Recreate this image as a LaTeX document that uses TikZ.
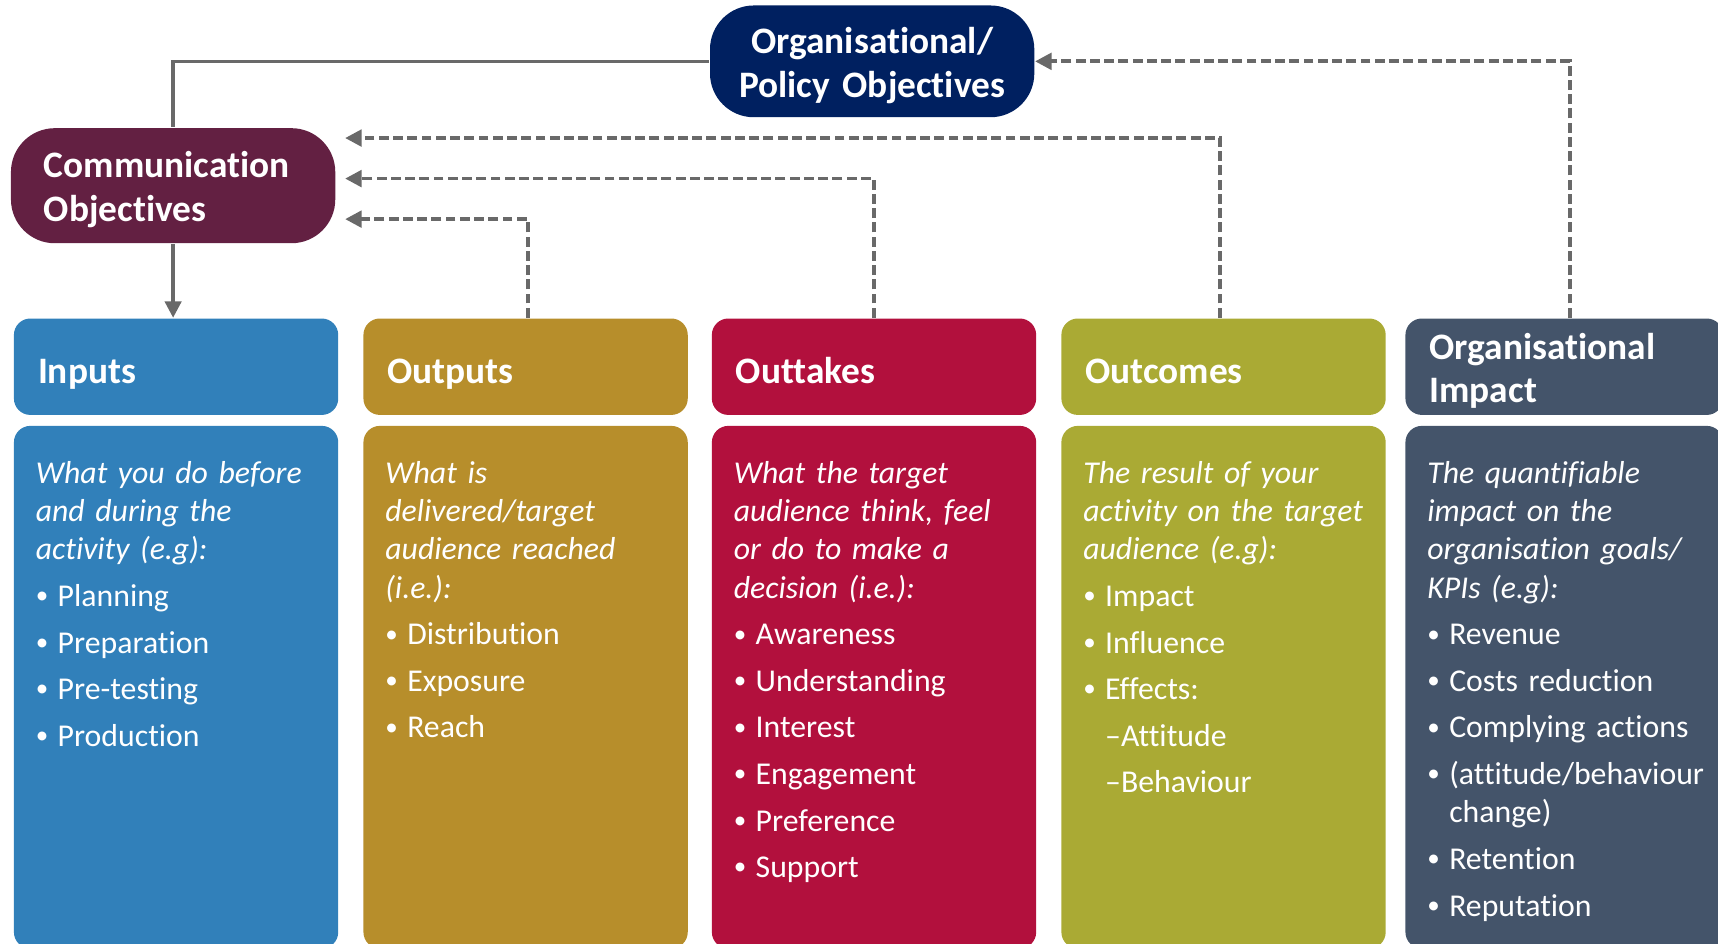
\documentclass[tikz,border=0pt]{standalone}
\usepackage{fontspec}
\usepackage{xcolor}
\usepackage{tikz}
\usetikzlibrary{arrows.meta}
\setmainfont{Carlito}[Ligatures=NoCommon]

\definecolor{navy}{RGB}{0,32,96}
\definecolor{plum}{RGB}{99,32,66}
\definecolor{inblue}{RGB}{49,128,186}
\definecolor{outgold}{RGB}{183,142,43}
\definecolor{takered}{RGB}{178,16,61}
\definecolor{comeolive}{RGB}{170,170,52}
\definecolor{slate}{RGB}{68,84,106}
\definecolor{linegray}{RGB}{105,105,105}

\newcommand{\bul}{\makebox[0.2cm][l]{\raisebox{0.7pt}{\fontsize{6.5}{6.5}\selectfont\textbullet}}}
\newcommand{\gap}{\\[0.075cm]}

\tikzset{
  headfont/.style={font=\fontsize{9.7}{11.4}\selectfont\bfseries},
  objbox/.style={rounded corners=0.4cm, minimum width=2.96cm, text=white, headfont,
    text height=0.25cm, text depth=0.395cm},
  headbox/.style={rounded corners=0.15cm, anchor=north west, minimum width=2.96cm,
    minimum height=0.88cm, text width=2.52cm, inner xsep=0.22cm, inner ysep=0,
    align=left, text=white, headfont, text height=0.32cm, text depth=0.02cm},
  bodybox/.style={rounded corners=0.15cm, anchor=north west, minimum width=2.96cm,
    minimum height=4.77cm, inner sep=0},
  bodytext/.style={anchor=base west, text width=2.7cm, inner sep=0, align=left,
    text=white, font=\fontsize{8.25}{9.96}\selectfont},
  solidline/.style={draw=linegray, line width=0.03cm},
  dashline/.style={draw=linegray, line width=0.034cm, dash pattern=on 0.09cm off 0.04cm},
  tip/.style={-{Triangle[length=0.15cm,width=0.15cm]}}
}

\begin{document}
\begin{tikzpicture}
  \useasboundingbox (0,0) rectangle (15.68,-8.61);
  \clip (0,0) rectangle (15.68,-8.61);

  % objectives
  \node[objbox, fill=navy, minimum height=1.02cm, text width=2.6cm, inner xsep=0.18cm,
    align=center] (org) at (7.96,-0.56)
    {Organisational/\\Policy Objectives};
  \node[objbox, fill=plum, minimum height=1.05cm, text width=2.36cm, inner xsep=0.30cm,
    outer xsep=0.09cm, align=left] (comm) at (1.58,-1.695)
    {Communication\\Objectives};

  % column headers
  \node[headbox, fill=inblue] (inputsHead) at (0.12,-2.90) {Inputs};
  \node[headbox, fill=outgold] (outputsHead) at (3.31,-2.90) {Outputs};
  \node[headbox, fill=takered] (outtakesHead) at (6.49,-2.90) {Outtakes};
  \node[headbox, fill=comeolive] (outcomesHead) at (9.68,-2.90) {Outcomes};
  \node[headbox, fill=slate, minimum width=2.90cm, text width=2.46cm,
    text height=0.27cm, text depth=0.41cm] (impactHead) at (12.82,-2.90)
    {Organisational\\Impact};

  % column bodies
  \node[bodybox, fill=inblue] (inputsBody) at (0.12,-3.88) {};
  \node[bodybox, fill=outgold] (outputsBody) at (3.31,-3.88) {};
  \node[bodybox, fill=takered] (outtakesBody) at (6.49,-3.88) {};
  \node[bodybox, fill=comeolive] (outcomesBody) at (9.68,-3.88) {};
  \node[bodybox, fill=slate, minimum width=2.90cm] (impactBody) at (12.82,-3.88) {};

  \node[bodytext] (inputsText) at (0.32,-4.41)
    {\itshape What you do before\\and during the\\activity (e.g):\gap
     \upshape\bul Planning\gap\bul Preparation\gap\bul Pre-testing\gap\bul Production};
  \node[bodytext] (outputsText) at (3.51,-4.41)
    {\itshape What is\\delivered/target\\audience reached\\(i.e.):\gap
     \upshape\bul Distribution\gap\bul Exposure\gap\bul Reach};
  \node[bodytext] (outtakesText) at (6.69,-4.41)
    {\itshape What the target\\audience think, feel\\or do to make a\\decision (i.e.):\gap
     \upshape\bul Awareness\gap\bul Understanding\gap\bul Interest\gap
     \bul Engagement\gap\bul Preference\gap\bul Support};
  \node[bodytext] (outcomesText) at (9.88,-4.41)
    {\itshape The result of your\\activity on the target\\audience (e.g):\gap
     \upshape\bul Impact\gap\bul Influence\gap\bul Effects:\gap
     \hspace*{0.2cm}–Attitude\gap\hspace*{0.2cm}–Behaviour};
  \node[bodytext] (impactText) at (13.02,-4.41)
    {\itshape The quantifiable\\impact on the\\organisation goals/\\KPIs (e.g):\gap
     \upshape\bul Revenue\gap\bul Costs reduction\gap\bul Complying actions\gap
     \bul (attitude/behaviour\\\hspace*{0.2cm}change)\gap\bul Retention\gap\bul Reputation};

  % connectors
  \draw[solidline] (org.west) -| (comm.north);
  \draw[solidline, tip] (comm.south) -- (comm.south |- inputsHead.north);
  \draw[dashline, tip] ([xshift=0.02cm]outputsHead.north) |- ([yshift=-0.305cm]comm.east);
  \draw[dashline, tip] (outtakesHead.north) |- ([yshift=0.065cm]comm.east);
  \draw[dashline, tip] ([xshift=-0.03cm]outcomesHead.north) |- ([yshift=0.435cm]comm.east);
  \draw[dashline, tip] ([xshift=0.05cm]impactHead.north) |- (org.east);
\end{tikzpicture}
\end{document}
